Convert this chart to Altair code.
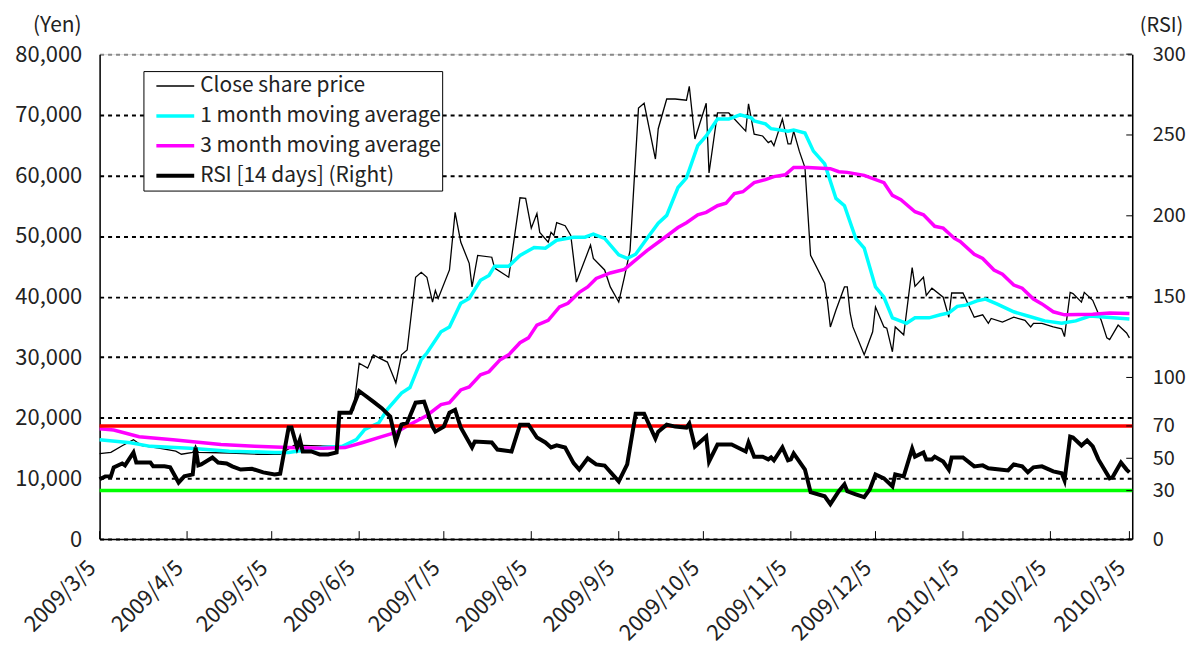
import altair as alt
import pandas as pd

FONT = "Noto Sans CJK JP"
START = pd.Timestamp("2009-03-05")

# ---- data (days counted from 2009/3/5) ----
close_days = [0, 4, 8, 12, 15, 21, 27, 29, 33, 34, 35, 46, 56, 64, 69, 84, 85, 89, 90, 92, 95, 97, 99, 102,
              105, 107, 109, 112, 114, 116, 118, 119, 120, 124, 126, 128, 131, 132, 134, 139, 140, 145, 149,
              151, 153, 155, 156, 159, 160, 161, 162, 165, 167, 169, 174, 175, 179, 181, 184, 186, 188, 191,
              193, 197, 198, 201, 204, 208, 209, 211, 215, 216, 219, 223, 224, 229, 230, 232, 235, 237, 238,
              239, 242, 244, 245, 246, 248, 250, 252, 257, 258, 259, 261, 264, 265, 266, 267, 271, 274, 275,
              278, 279, 281, 282, 285, 288, 289, 292, 293, 295, 299, 301, 302, 306, 310, 313, 315, 316, 320,
              324, 328, 330, 331, 334, 338, 341, 342, 344, 345, 348, 349, 352, 355, 357, 358, 361, 364, 365]
close_vals = [14100, 14300, 15400, 16400, 15400, 15000, 14500, 14000, 14300, 15400, 14300, 14200, 14000,
              14000, 15500, 15300, 21000, 21000, 21300, 29000, 28200, 30400, 29900, 29200, 25800, 30400,
              31200, 43200, 44000, 43200, 39100, 41000, 39700, 44400, 53900, 49000, 45500, 41600, 46800,
              46500, 44700, 43200, 56300, 56200, 51300, 53700, 50600, 49000, 50600, 50100, 52200, 51700,
              50100, 42400, 48500, 46300, 44400, 41600, 39100, 43200, 47600, 71100, 71900, 62700, 67700,
              72600, 72600, 72400, 74700, 66000, 71900, 60400, 70300, 70300, 69800, 67300, 71800, 66800,
              66500, 65400, 65700, 64900, 69300, 65200, 65200, 67300, 64000, 61300, 46800, 42200, 39100,
              35000, 37800, 41600, 41600, 37300, 35000, 30400, 34200, 38300, 35000, 34800, 30900, 35000,
              33700, 44800, 41700, 43200, 40200, 41400, 39900, 36600, 40600, 40600, 36600, 37000, 35600,
              36400, 35800, 36600, 36100, 35000, 35600, 35600, 35000, 34700, 33400, 40700, 40500, 39100,
              40700, 39400, 36100, 33200, 32900, 35300, 34000, 33200]

ma1_days = [0, 11, 18, 32, 46, 62, 67, 79, 86, 91, 94, 99, 102, 107, 110, 114, 116, 121, 124, 128, 131, 135,
            138, 140, 145, 149, 154, 158, 162, 168, 172, 175, 179, 184, 187, 190, 194, 198, 201, 205, 208,
            212, 215, 219, 223, 227, 231, 232, 236, 238, 244, 246, 250, 253, 257, 261, 264, 268, 271, 275,
            278, 281, 286, 289, 294, 298, 301, 304, 307, 311, 314, 318, 324, 329, 335, 341, 346, 351, 357, 365]
ma1_vals = [16400, 15900, 15300, 15000, 14500, 14300, 14300, 15100, 15300, 16400, 18100, 19200, 21400,
            24100, 25000, 29600, 30700, 34200, 35000, 38900, 39700, 42700, 43500, 45000, 45000, 46800,
            48100, 48000, 49300, 49800, 49800, 50300, 49600, 46900, 46300, 47000, 49600, 52100, 53400,
            58000, 59600, 64900, 66500, 69300, 69300, 70000, 69500, 69000, 68500, 67700, 67300, 67500,
            67000, 64000, 61900, 56200, 55000, 49600, 48000, 41600, 39900, 36500, 35600, 36500, 36500,
            37000, 37300, 38400, 38600, 39300, 39600, 38800, 37500, 36800, 36000, 35600, 36000, 36800,
            36600, 36300]

ma3_days = [0, 5, 14, 26, 43, 55, 67, 79, 87, 93, 100, 105, 110, 116, 121, 124, 128, 131, 135, 138, 142,
            145, 149, 152, 155, 159, 163, 166, 170, 173, 176, 181, 186, 194, 199, 205, 208, 212, 215, 219,
            222, 225, 228, 232, 236, 239, 243, 246, 251, 259, 262, 265, 271, 278, 281, 284, 289, 292, 296,
            299, 303, 305, 310, 313, 317, 320, 324, 327, 331, 334, 338, 342, 352, 358, 365]
ma3_vals = [18200, 18000, 16900, 16400, 15600, 15300, 15100, 15000, 15100, 15900, 16900, 17600, 18900,
            20400, 22200, 22500, 24600, 25100, 27100, 27600, 29600, 30400, 32400, 33200, 35300, 36100,
            38300, 38900, 40700, 41600, 43000, 43900, 44500, 47600, 49300, 51400, 52200, 53500, 53900,
            55000, 55400, 57000, 57300, 58800, 59300, 59800, 60100, 61300, 61300, 61100, 60600, 60500,
            60000, 58800, 56700, 56000, 54000, 53500, 51600, 51300, 49600, 49100, 47000, 46300, 44400,
            43700, 41900, 41400, 39600, 38800, 37500, 37000, 37100, 37300, 37200]

rsi_days = [0, 2, 4, 5, 8, 9, 12, 13, 18, 19, 23, 25, 28, 30, 33, 34, 35, 36, 40, 42, 45, 47, 50, 54, 58,
            62, 64, 67, 68, 70, 71, 72, 75, 78, 81, 84, 85, 89, 92, 94, 97, 100, 103, 105, 107, 109, 112,
            115, 116, 118, 119, 122, 124, 126, 128, 132, 133, 139, 141, 146, 149, 152, 155, 158, 160, 162,
            165, 168, 170, 173, 176, 179, 184, 187, 190, 193, 197, 198, 201, 204, 208, 209, 211, 215, 216,
            219, 224, 229, 230, 232, 235, 237, 238, 239, 242, 244, 245, 246, 250, 252, 257, 259, 262, 264,
            265, 268, 271, 273, 275, 278, 281, 282, 285, 288, 289, 292, 293, 295, 296, 299, 301, 302, 306,
            310, 313, 315, 319, 322, 324, 327, 329, 331, 334, 338, 341, 342, 344, 345, 348, 350, 352, 354,
            358, 359, 362, 364, 365]
rsi_vals = [37, 38.8, 38.8, 44.4, 46.8, 45.6, 53.6, 47.4, 47.4, 45, 45, 44.4, 35, 38.8, 40, 56.7, 45.6,
            46.2, 50.5, 47.4, 46.8, 45, 43, 43.5, 41.3, 40, 40.5, 69, 69, 56.7, 61.6, 54.2, 54.2, 52.4,
            52.4, 53.6, 78.2, 78.2, 91.5, 89, 85, 81, 75.8, 60.4, 70.8, 72, 84.4, 85, 80, 69.6, 66.5, 69.6,
            78.2, 80, 69, 56.7, 60.4, 59.8, 55.4, 54.2, 70.8, 70.8, 62.8, 59.8, 56.7, 58, 56.7, 47, 43, 50,
            46.2, 45.5, 35.7, 46.2, 77.6, 77.6, 62.2, 66.5, 70.8, 69.6, 69, 71.5, 57.3, 63.4, 48, 58.5,
            58.5, 54.2, 59.8, 51, 51, 49.3, 50.5, 48.7, 56.7, 48.7, 49.3, 53, 43, 29, 26.5, 21.6, 29.6,
            33.9, 29.6, 27.7, 25.9, 30.8, 40, 37.6, 32.6, 40, 38.8, 56, 51, 53.6, 49.3, 49.3, 51, 48, 43,
            50.5, 50.5, 45, 45.6, 43.8, 43, 42.5, 46.2, 45, 41.3, 44.4, 45, 41.9, 40.7, 36.3, 63.4, 62.8,
            57.9, 61, 57.3, 49.3, 37.6, 38.2, 47.4, 43, 41.3]

rsi_levels = [70, 30]
yen_ticks = [0, 10000, 20000, 30000, 40000, 50000, 60000, 70000, 80000]
rsi_ticks = [0, 30, 50, 70, 100, 150, 200, 250, 300]
tick_months = [(2009, 3), (2009, 4), (2009, 5), (2009, 6), (2009, 7), (2009, 8), (2009, 9), (2009, 10),
               (2009, 11), (2009, 12), (2010, 1), (2010, 2), (2010, 3)]

names = ["Close share price", "1 month moving average", "3 month moving average", "RSI [14 days] (Right)"]
colors = ["black", "#00FFFF", "#FF00FF", "black"]
widths = [1.3, 3.5, 3.5, 4]


def to_dates(days):
    return (START + pd.to_timedelta(days, unit="D")).strftime("%Y/%m/%d")


price_df = pd.concat([
    pd.DataFrame({"date": to_dates(close_days), "value": close_vals, "series": names[0]}),
    pd.DataFrame({"date": to_dates(ma1_days), "value": ma1_vals, "series": names[1]}),
    pd.DataFrame({"date": to_dates(ma3_days), "value": ma3_vals, "series": names[2]}),
], ignore_index=True)
rsi_df = pd.DataFrame({"date": to_dates(rsi_days), "rsi": rsi_vals, "series": names[3]})
tick_df = pd.DataFrame({"date": [f"{y}/{m:02d}/05" for y, m in tick_months]})
rsi_tick_df = pd.DataFrame({"rsi": rsi_ticks})

x_enc = alt.X(
    "date:T",
    scale=alt.Scale(domain=[alt.DateTime(year=2009, month=3, date=5),
                            alt.DateTime(year=2010, month=3, date=6)]),
    axis=alt.Axis(
        values=[alt.DateTime(year=y, month=m, date=5) for y, m in tick_months],
        format="%Y/%-m/%-d", labelAngle=-45, labelAlign="right", labelBaseline="middle",
        labelPadding=25, labelOffset=-8, labelOverlap=False, labelFlush=False, ticks=False, grid=False,
        domainColor="black", domainWidth=1.5, labelFont=FONT, labelFontSize=22, labelColor="#222",
    ),
    title=None,
)

legend = alt.Legend(
    title=None, orient="none", legendX=44, legendY=17, symbolType="stroke", symbolSize=1444,
    symbolOffset=10, labelFont=FONT, labelFontSize=21, labelColor="#222", fillColor="white",
    strokeColor="black", padding=1, rowPadding=2, clipHeight=28, labelOffset=4, labelLimit=400,
)
color_enc = alt.Color("series:N", scale=alt.Scale(domain=names, range=colors), legend=legend)
width_enc = alt.StrokeWidth("series:N", scale=alt.Scale(type="ordinal", domain=names, range=widths),
                            legend=legend)

y_yen = alt.Y(
    "value:Q", scale=alt.Scale(domain=[0, 80000]),
    axis=alt.Axis(
        values=yen_ticks, format=",.0f", title="(Yen)", titleAngle=0, titleX=-43, titleY=-29,
        titleAlign="center", titleBaseline="middle", titleFont=FONT, titleFontSize=21,
        titleFontWeight="normal", titleColor="#222", grid=True, gridDash=[4, 4], gridWidth=2,
        gridColor=alt.condition("datum.value === 80000", alt.value("#888888"), alt.value("black")),
        ticks=False, labelPadding=18, labelFont=FONT, labelFontSize=22, labelColor="#222",
        domainColor="black", domainWidth=1.5,
    ),
)
y_rsi = alt.Y(
    "rsi:Q", scale=alt.Scale(domain=[0, 300]),
    axis=alt.Axis(
        orient="right", values=rsi_ticks, title="(RSI)", titleAngle=0, titleX=29, titleY=-29,
        titleAlign="center", titleBaseline="middle", titleFont=FONT, titleFontSize=20,
        titleFontWeight="normal", titleColor="#222", grid=False, ticks=False, labelPadding=20,
        labelAlign="left", labelFont=FONT, labelFontSize=20, labelColor="#222",
        domainColor="black", domainWidth=1.5,
    ),
)

base_price = alt.Chart(price_df)
price_layers = [
    base_price.transform_filter(alt.datum.series == n).mark_line().encode(
        x=x_enc, y=y_yen, color=color_enc, strokeWidth=width_enc)
    for n in names[:3]
]
x_ticks = alt.Chart(tick_df).mark_rule(color="black", strokeWidth=1).encode(
    x=x_enc, y=alt.value(479), y2=alt.value(487))
left = alt.layer(*price_layers, x_ticks)

red = alt.Chart(pd.DataFrame({"rsi": [rsi_levels[0]]})).mark_rule(color="#FF0000", strokeWidth=3.5).encode(y=y_rsi)
green = alt.Chart(pd.DataFrame({"rsi": [rsi_levels[1]]})).mark_rule(color="#00FF00", strokeWidth=3.5).encode(y=y_rsi)
r_ticks = alt.Chart(rsi_tick_df).mark_rule(color="black", strokeWidth=1).encode(
    y=y_rsi, x=alt.value(1031), x2=alt.value(1037))
rsi_line = alt.Chart(rsi_df).mark_line().encode(x=x_enc, y=y_rsi, color=color_enc, strokeWidth=width_enc)
right = alt.layer(red, green, r_ticks, rsi_line)

chart = alt.layer(left, right).resolve_scale(y="independent").properties(
    width=1037, height=487,
    padding={"left": 92, "top": 45, "right": 55, "bottom": 105},
    autosize=alt.AutoSizeParams(type="none"),
).configure_view(stroke=None).configure(background="white")

chart.save("out.html", embed_options={"renderer": "svg", "actions": False})
